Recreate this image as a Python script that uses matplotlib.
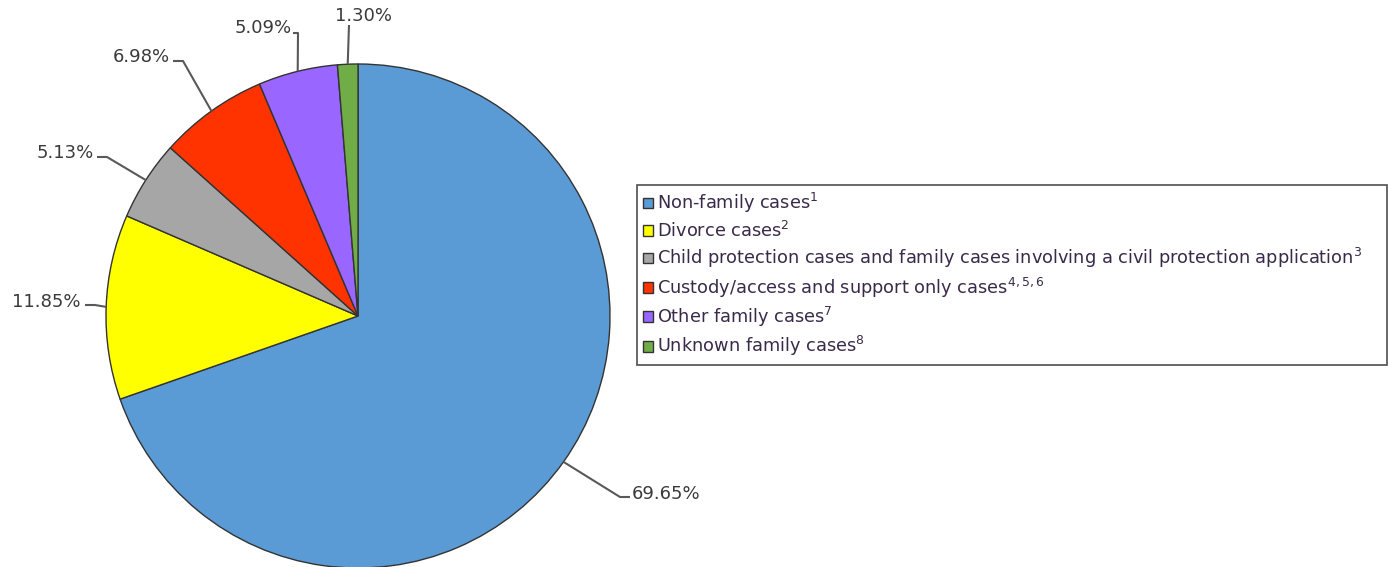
import numpy as np
import matplotlib.pyplot as plt
from matplotlib.patches import Patch

# data
categories = [
    "Non-family cases$^{1}$",
    "Divorce cases$^{2}$",
    "Child protection cases and family cases involving a civil protection application$^{3}$",
    "Custody/access and support only cases$^{4,5,6}$",
    "Other family cases$^{7}$",
    "Unknown family cases$^{8}$",
]
shares = [69.65, 11.85, 5.13, 6.98, 5.09, 1.30]
colors = ["#5B9BD5", "#FFFF00", "#A6A6A6", "#FF3300", "#9966FF", "#70AD47"]

# layout (pixel coords, y from top)
W, H = 1388, 567
cx, cy, R = 358, 316, 252
# elbow of each leader line, end of leader line, text anchor, alignment
elbows = [(620, 497), (95, 305), (107, 157), (183, 61), (298, 33), (349, 25)]
ends = [(630, 497), (85, 305), (97, 157), (173, 61), (293, 33), (349, 25)]
text_pos = [(632, 494), (81, 302), (94, 153), (170, 57), (292, 28), (335, 16)]
text_ha = ["left", "right", "right", "right", "right", "left"]

fig = plt.figure(figsize=(W / 100, H / 100), dpi=100)
ax = fig.add_axes([0, 0, 1, 1])

wedges, _ = ax.pie(shares, colors=colors, startangle=90, counterclock=False,
                   center=(cx, H - cy), radius=R, frame=True,
                   wedgeprops=dict(edgecolor="#333333", linewidth=1.0))

ax.set_xlim(0, W)
ax.set_ylim(0, H)
ax.axis("off")

txt_color = "#3a3a3a"
for w, val, el, en, tp, ha in zip(wedges, shares, elbows, ends, text_pos, text_ha):
    mid = np.deg2rad((w.theta1 + w.theta2) / 2)
    ex = cx + R * np.cos(mid)
    ey = (H - cy) + R * np.sin(mid)
    xs = [ex, el[0], en[0]]
    ys = [ey, H - el[1], H - en[1]]
    ax.plot(xs, ys, color="#595959", linewidth=1.5, solid_capstyle="butt")
    ax.text(tp[0], H - tp[1], f"{val:.2f}%", ha=ha, va="center",
            fontsize=13, color=txt_color)

handles = [Patch(facecolor=c, edgecolor="#333333", linewidth=1.0) for c in colors]
leg = fig.legend(handles, categories, loc="upper left", mode="expand",
                 bbox_to_anchor=(637 / W, 1 - 362 / H, 750 / W, 177 / H),
                 frameon=True, fancybox=False, fontsize=12.8,
                 handlelength=0.55, handleheight=0.55, handletextpad=0.25,
                 labelspacing=0.3, borderpad=0.35, borderaxespad=0)
leg.get_frame().set_edgecolor("#222222")
leg.get_frame().set_linewidth(1.2)
for t in leg.get_texts():
    t.set_color("#3a2a4a")

fig.savefig("out.png", dpi=100)
